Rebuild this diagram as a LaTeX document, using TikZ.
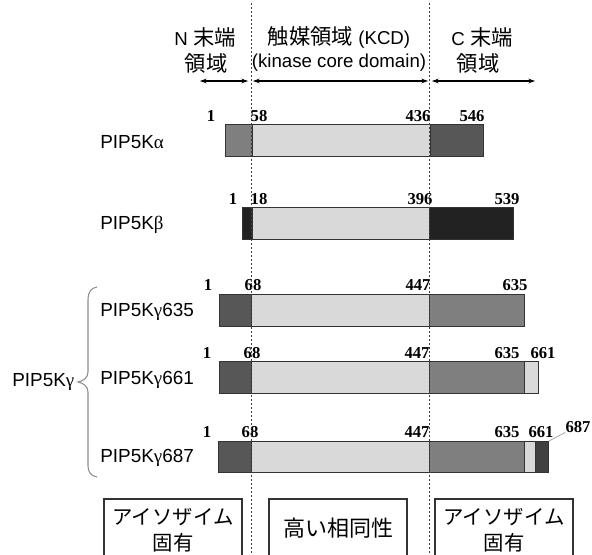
\documentclass[tikz,border=0pt]{standalone}
\usepackage{fontspec}
\setmainfont{Liberation Sans}
\newfontfamily\jp{Noto Sans CJK JP}
\newfontfamily\numf{Liberation Serif}
\usetikzlibrary{arrows.meta}
\definecolor{kcd}{HTML}{D9D9D9}
\definecolor{midg}{HTML}{7F7F7F}
\definecolor{darkg}{HTML}{575757}
\definecolor{blk}{HTML}{222222}
\definecolor{tipg}{HTML}{404040}
\newcommand\pkseg[5]{\filldraw[segstyle, fill=#5] (#1,#3) rectangle (#2,#4);}
\newcommand\grk[1]{{\numf #1}}
\newcommand\hj[1]{{\jp\fontsize{16}{18}\selectfont #1}}
\tikzset{
  lbl/.style={font=\fontsize{14.2}{16}\selectfont, inner sep=0pt, anchor=west},
  num/.style={font=\numf\bfseries\fontsize{12.5}{13}\selectfont, inner sep=0pt, anchor=base},
  hdr/.style={font=\fontsize{14}{17}\selectfont, inner sep=0pt},
  jptxt/.style={font=\jp\fontsize{15.3}{18}\selectfont, inner sep=0pt},
  segstyle/.style={draw=black!80, line width=0.7pt},
  guide/.style={draw=black!75, line width=0.6pt, dash pattern=on 1.6pt off 1.4pt},
  span/.style={draw=black, line width=0.8pt, {Stealth[length=5pt,width=3.5pt]}-{Stealth[length=5pt,width=3.5pt]}},
  boxst/.style={draw=black!80, line width=0.9pt},
  bracest/.style={draw=black!45, line width=0.8pt}
}
\begin{document}
\begin{tikzpicture}[x=0.75pt,y=-0.75pt]
\useasboundingbox (0,0) rectangle (592,555);

% header
\node[hdr] (hN1) at (205,37) {N \hj{末端}};
\node[hdr] (hN2) at (206,63) {\hj{領域}};
\node[hdr] (hK1) at (339,37) {\hj{触媒領域} (KCD)};
\node[hdr] (hK2) at (339,63) {(kinase core domain)};
\node[hdr] (hC1) at (482,37) {C \hj{末端}};
\node[hdr] (hC2) at (478,63) {\hj{領域}};
\coordinate (a1) at (200,81); \coordinate (a2) at (248,81);
\coordinate (a3) at (253,81); \coordinate (a4) at (428,81);
\coordinate (a5) at (432,81); \coordinate (a6) at (535,81);
\draw[span] (a1) -- (a2);
\draw[span] (a3) -- (a4);
\draw[span] (a5) -- (a6);

% row names
\node[lbl] (ra) at (100,142) {PIP5K\grk{α}};
\node[lbl] (rb) at (100,225) {PIP5K\grk{β}};
\node[lbl] (rg1) at (100,312) {PIP5K\grk{γ}635};
\node[lbl] (rg2) at (100,380) {PIP5K\grk{γ}661};
\node[lbl] (rg3) at (100,458) {PIP5K\grk{γ}687};
\node[lbl] (rg) at (12,382) {PIP5K\grk{γ}};
\draw[bracest] (97,287) .. controls (91,288) and (88,292) .. (88,300) -- (88,372)
  .. controls (88,378) and (83,381) .. (78,382) .. controls (83,383) and (88,386) .. (88,392)
  -- (88,466) .. controls (88,472) and (91,476) .. (97,477);

% alpha
\pkseg{225}{252}{124}{156}{midg}
\pkseg{252}{430}{124}{156}{kcd}
\pkseg{430}{483}{124}{156}{darkg}
\node[num] (na1) at (211,122) {1};
\node[num] (na2) at (259,122) {58};
\node[num] (na3) at (418,122) {436};
\node[num] (na4) at (472,122) {546};

% beta
\pkseg{242}{252}{207}{239}{blk}
\pkseg{252}{429}{207}{239}{kcd}
\pkseg{429}{513}{207}{239}{blk}
\node[num] (nb1) at (233,205) {1};
\node[num] (nb2) at (259,205) {18};
\node[num] (nb3) at (420,205) {396};
\node[num] (nb4) at (507,205) {539};

% gamma 635
\pkseg{219}{251}{294}{326}{darkg}
\pkseg{251}{429}{294}{326}{kcd}
\pkseg{429}{524}{294}{326}{midg}
\node[num] (nc1) at (208,291) {1};
\node[num] (nc2) at (253,291) {68};
\node[num] (nc3) at (418,291) {447};
\node[num] (nc4) at (515,291) {635};

% gamma 661
\pkseg{219}{251}{361}{393}{darkg}
\pkseg{251}{429}{361}{393}{kcd}
\pkseg{429}{524}{361}{393}{midg}
\pkseg{524}{538}{361}{393}{kcd}
\node[num] (nd1) at (207,359) {1};
\node[num] (nd2) at (252,359) {68};
\node[num] (nd3) at (417,359) {447};
\node[num] (nd4) at (507,359) {635};
\node[num] (nd5) at (543,359) {661};

% gamma 687
\pkseg{218}{251}{441}{472}{darkg}
\pkseg{251}{429}{441}{472}{kcd}
\pkseg{429}{524}{441}{472}{midg}
\pkseg{524}{535}{441}{472}{kcd}
\pkseg{535}{548}{441}{472}{tipg}
\node[num] (ne1) at (207,437) {1};
\node[num] (ne2) at (250,437) {68};
\node[num] (ne3) at (417,437) {447};
\node[num] (ne4) at (507,437) {635};
\node[num] (ne5) at (541,437) {661};
\node[num] (ne6) at (578,432) {687};
\coordinate (e687) at (549,441);
\draw[draw=black!40, line width=0.5pt] (e687) -- (ne6.south west);

% guides
\coordinate (g1t) at (251,3); \coordinate (g1b) at (251,555);
\coordinate (g2t) at (429,3); \coordinate (g2b) at (429,555);
\draw[guide] (g1t) -- (g1b);
\draw[guide] (g2t) -- (g2b);

% bottom boxes
\draw[boxst] (104,560) -- (104,499) -- (242,499) -- (242,560);
\draw[boxst] (269,560) -- (269,499) -- (407,499) -- (407,560);
\draw[boxst] (435,560) -- (435,499) -- (573,499) -- (573,560);
\node[jptxt] (t1a) at (173,517) {アイソザイム};
\node[jptxt] (t1b) at (173,543) {固有};
\node[jptxt, font=\jp\fontsize{16.5}{18}\selectfont] (t2) at (338,528) {高い相同性};
\node[jptxt] (t3a) at (504,517) {アイソザイム};
\node[jptxt] (t3b) at (504,543) {固有};
\end{tikzpicture}
\end{document}
